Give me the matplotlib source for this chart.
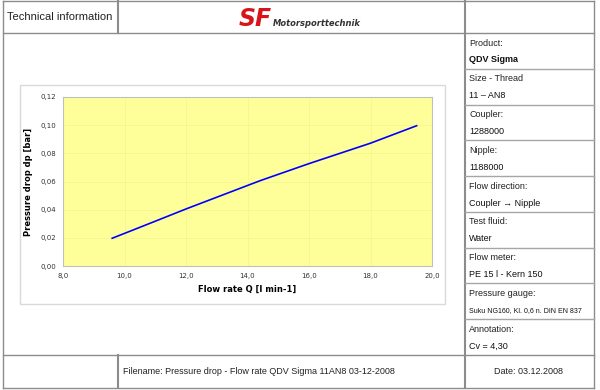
import matplotlib
matplotlib.use("Agg")
import matplotlib.pyplot as plt
from matplotlib.lines import Line2D
from matplotlib.patches import Rectangle
from matplotlib.ticker import FuncFormatter, MultipleLocator

flow_rate = [9.6, 11.0, 12.0, 13.2, 14.4, 16.0, 18.0, 19.5]
pressure_drop = [0.0197, 0.0318, 0.0405, 0.0505, 0.0605, 0.0727, 0.0872, 0.0996]

# right hand info column: (label, value)
info_labels = ["Product:", "Size - Thread", "Coupler:", "Nipple:", "Flow direction:",
               "Test fluid:", "Flow meter:", "Pressure gauge:", "Annotation:"]
info_values = ["QDV Sigma", "11 \u2013 AN8", "1288000", "1188000", "Coupler \u2192 Nipple",
               "Water", "PE 15 l - Kern 150", "Suku NG160, Kl. 0,6 n. DIN EN 837", "Cv = 4,30"]

header_title = "Technical information"
footer_file = "Filename: Pressure drop - Flow rate QDV Sigma 11AN8 03-12-2008"
footer_date = "Date: 03.12.2008"

W, H = 600, 390
plt.rcParams["font.family"] = ["Liberation Sans", "DejaVu Sans"]

fig = plt.figure(figsize=(W / 100, H / 100), dpi=100)

# overlay in pixel coordinates for the sheet frame
sheet = fig.add_axes([0, 0, 1, 1])
sheet.set_xlim(0, W)
sheet.set_ylim(H, 0)
sheet.axis("off")

frame = "#8c8c8c"


def hline(y, x0, x1, color=frame, lw=1.0):
    sheet.add_line(Line2D([x0, x1], [y, y], color=color, lw=lw))


def vline(x, y0, y1, color=frame, lw=1.0):
    sheet.add_line(Line2D([x, x], [y0, y1], color=color, lw=lw))


left, right, top, bottom = 3, 594, 1, 388
col_x = 465
head_y, foot_y = 33, 355

hline(top, left, right)
hline(bottom, left, right)
vline(left, top, bottom)
vline(right, top, bottom)
hline(head_y, left, right)
hline(foot_y, left, right)
vline(118, top, head_y, lw=1.5)
vline(118, foot_y, bottom, lw=1.5)
vline(col_x, top, bottom, lw=1.5)

# header
sheet.text(60, 17, header_title, fontsize=8, ha="center", va="center", color="#222222")
sheet.text(272, 19, "SF", fontsize=17, fontweight="bold", style="italic",
           color="#d7141a", ha="right", va="center", family="DejaVu Sans")
sheet.text(273, 23, "Motorsporttechnik", fontsize=6, fontweight="bold", style="italic",
           color="#333333", ha="left", va="center", family="DejaVu Sans")

# info column
row_h = (foot_y - head_y) / len(info_labels)
for i, (lab, val) in enumerate(zip(info_labels, info_values)):
    y0 = head_y + i * row_h
    if i > 0:
        hline(y0, col_x, right, color="#a6a6a6")
    sheet.text(469, y0 + 10, lab, fontsize=6.5, ha="left", va="center", color="#222222")
    bold = "bold" if i == 0 else "normal"
    size = 5 if len(val) > 25 else 6.5
    sheet.text(469, y0 + 27, val, fontsize=size, fontweight=bold, ha="left",
               va="center", color="#111111")

# footer
sheet.text(123, 372, footer_file, fontsize=6.5, ha="left", va="center", color="#222222")
sheet.text(528, 372, footer_date, fontsize=6.5, ha="center", va="center", color="#222222")

# chart area box
sheet.add_patch(Rectangle((20, 85), 425, 219, facecolor="white", edgecolor="#d9d9d9", lw=1))

# plot
px0, py0, px1, py1 = 63, 97, 432, 266
ax = fig.add_axes([px0 / W, 1 - py1 / H, (px1 - px0) / W, (py1 - py0) / H])
ax.set_facecolor("#ffff99")
ax.plot(flow_rate, pressure_drop, color="#0000ff", lw=1.2)
ax.set_xlim(8, 20)
ax.set_ylim(0, 0.12)
ax.xaxis.set_major_locator(MultipleLocator(2))
ax.yaxis.set_major_locator(MultipleLocator(0.02))
ax.xaxis.set_major_formatter(FuncFormatter(lambda v, p: f"{v:.1f}".replace(".", ",")))
ax.yaxis.set_major_formatter(FuncFormatter(lambda v, p: f"{v:.2f}".replace(".", ",")))
ax.grid(True, color="#f4f48e", lw=0.5)
ax.set_axisbelow(True)
for s in ax.spines.values():
    s.set_color("#bfbfbf")
ax.tick_params(length=0, labelsize=5, labelcolor="#333333", pad=5)
for lab in ax.get_xticklabels() + ax.get_yticklabels():
    lab.set_family("DejaVu Sans")
ax.set_xlabel("Flow rate Q [l min-1]", fontsize=6, fontweight="bold",
              family="DejaVu Sans", labelpad=4)
ax.set_ylabel("Pressure drop dp [bar]", fontsize=6, fontweight="bold",
              family="DejaVu Sans", labelpad=5)

fig.savefig("out.png", dpi=100)
